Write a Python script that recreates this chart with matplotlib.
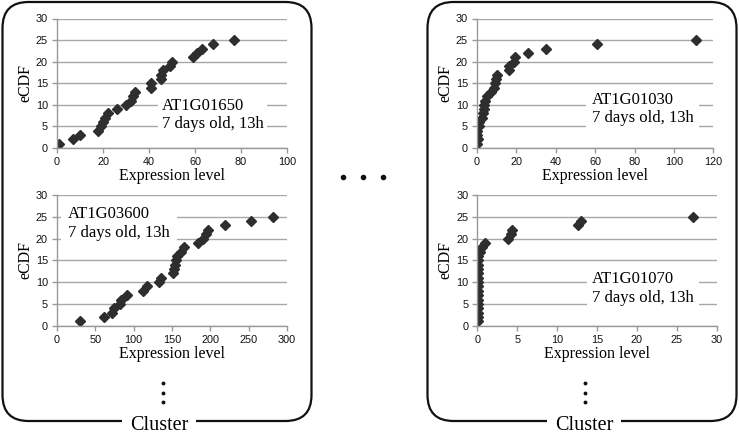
import matplotlib
matplotlib.use("Agg")
import matplotlib.pyplot as plt
from matplotlib.patches import FancyBboxPatch
import numpy as np

W, H = 739, 437

# eCDF rank 1..25 for every gene
ecdf = list(range(1, 26))

expr_01650 = [1, 7, 10, 18, 19, 20, 21, 22, 26, 30, 32, 33, 34, 41, 41,
              45, 45, 46, 49, 50, 59, 61, 63, 68, 77]
expr_03600 = [30, 61, 72, 74, 82, 83, 91, 112, 118, 133, 136, 151, 152, 154,
              155, 156, 162, 166, 184, 190, 194, 197, 219, 253, 282]
expr_01030 = [0.2, 0.3, 0.2, 0.1, 0.8, 1.0, 2.5, 3.0, 3.5, 3.8, 4.0, 5.0, 7.0,
              8.5, 9.0, 9.5, 10.0, 16.0, 16.5, 19.0, 19.5, 26.0, 35.0, 61.0, 111.0]
expr_01070 = [0.1, 0.1, 0.1, 0.1, 0.1, 0.1, 0.1, 0.1, 0.1, 0.1, 0.1, 0.1, 0.1,
              0.1, 0.15, 0.15, 0.3, 0.6, 1.0, 3.8, 4.2, 4.3, 12.6, 13.0, 27.0]

genes = ['AT1G01650', 'AT1G03600', 'AT1G01030', 'AT1G01070']
condition = '7 days old, 13h'

col_mark = '#2e2e2e'
col_grid = '#a8a8a8'
serif = 'Liberation Serif'
sans = 'Liberation Sans'


def px_axes(fig, x0, x1, ytop, ybot):
    return fig.add_axes([x0 / W, (H - ybot) / H, (x1 - x0) / W, (ybot - ytop) / H])


def panel(ax, x, y, xmax, xstep, gene, tx, ty, tpad):
    ax.plot(x, y, 'D', color=col_mark, ms=5, mec=col_mark, zorder=2)
    ax.set_xlim(0, xmax)
    ax.set_ylim(0, 30)
    ax.set_xticks(np.arange(0, xmax + 0.1, xstep))
    ax.set_yticks(np.arange(0, 31, 5))
    ax.set_axisbelow(True)
    ax.grid(axis='y', color=col_grid, lw=1)
    for s in ['top', 'right']:
        ax.spines[s].set_visible(False)
    for s in ['left', 'bottom']:
        ax.spines[s].set_color('#999999')
        ax.spines[s].set_linewidth(1)
    ax.tick_params(colors='#999999', labelcolor='#111111', length=3.5, width=1,
                   pad=3, labelsize=7.8)
    for lab in ax.get_xticklabels() + ax.get_yticklabels():
        lab.set_fontfamily(sans)
    ax.set_xlabel('Expression level', family=serif, fontsize=11.5, labelpad=1)
    ax.set_ylabel('eCDF', family=serif, fontsize=11.5, labelpad=2)
    ax.patch.set_alpha(0)
    ax.text(tx, ty, gene + '\n' + condition, family=serif, fontsize=12,
            va='center', ha='left', zorder=3,
            bbox=dict(facecolor='white', edgecolor='none', pad=tpad))


fig = plt.figure(figsize=(W / 100, H / 100), dpi=100)

# background layer in pixel coordinates: rounded frames, cluster labels, dots
bg = fig.add_axes([0, 0, 1, 1], zorder=0)
bg.set_xlim(0, W)
bg.set_ylim(H, 0)
bg.axis('off')
for x0, x1 in [(2.5, 311.5), (427.5, 736.5)]:
    bg.add_patch(FancyBboxPatch((x0, 2), x1 - x0, 419,
                                boxstyle='round,pad=0,rounding_size=26',
                                fill=False, ec='#111111', lw=1.6))
    xc = (x0 + x1) / 2
    bg.text(xc + 2, 426, 'Cluster', family=serif, fontsize=14.5,
            ha='center', va='center',
            bbox=dict(facecolor='white', edgecolor='none', pad=6))
for xd in [163, 585]:
    bg.plot([xd] * 3, [383, 392.5, 402], 'o', color='#111111', ms=1.8)
bg.plot([343, 363, 383], [177, 177, 177], 'o', color='#111111', ms=3)

ax1 = px_axes(fig, 57, 287, 18.5, 148)
panel(ax1, expr_01650, ecdf, 100, 20, genes[0], 45.5, 7.6, 2.5)

ax2 = px_axes(fig, 57, 287, 195, 325.7)
panel(ax2, expr_03600, ecdf, 300, 50, genes[1], 14.3, 23.5, 5)

ax3 = px_axes(fig, 477, 713.3, 18.5, 148)
panel(ax3, expr_01030, ecdf, 120, 20, genes[2], 58.4, 9.0, 4)

ax4 = px_axes(fig, 477.3, 716.7, 195, 325.7)
panel(ax4, expr_01070, ecdf, 30, 5, genes[3], 14.4, 8.5, 4)

fig.savefig('out.png', dpi=100)
